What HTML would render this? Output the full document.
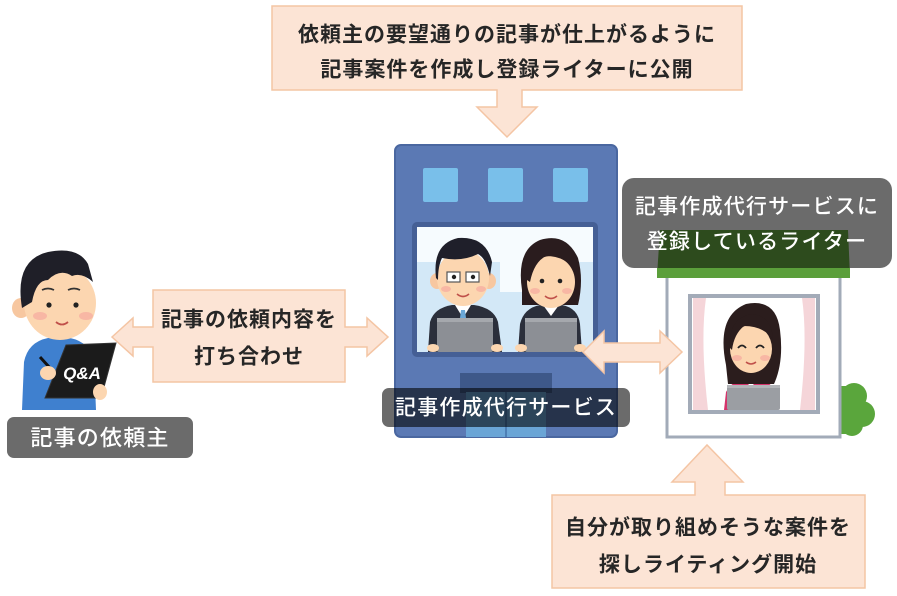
<!DOCTYPE html>
<html><head><meta charset="utf-8">
<style>
html,body{margin:0;padding:0;background:#fff;}
svg{display:block;}
.pt{font-family:"Liberation Sans","Noto Sans CJK JP",sans-serif;font-weight:700;font-size:21px;fill:#262626;letter-spacing:1px;}
.lt{font-family:"Liberation Sans","Noto Sans CJK JP",sans-serif;font-weight:500;font-size:21px;fill:#fff;letter-spacing:1.2px;}
</style></head>
<body>
<svg width="897" height="596" viewBox="0 0 897 596" xmlns="http://www.w3.org/2000/svg">
<rect width="897" height="596" fill="#fff"/>

<!-- Top peach box with down arrow -->
<polygon points="272,6 742,6 742,90 522,90 522,107 537,107 507,137 477,107 497,107 497,90 272,90" fill="#fce4d5" stroke="#f4c5a4" stroke-width="1.5"/>
<text class="pt" x="507" y="35" text-anchor="middle" dominant-baseline="central">依頼主の要望通りの記事が仕上がるように</text>
<text class="pt" x="507" y="70" text-anchor="middle" dominant-baseline="central">記事案件を作成し登録ライターに公開</text>

<!-- Building -->
<rect x="395" y="145" width="222" height="292" rx="6" fill="#5b79b4" stroke="#4a67a0" stroke-width="2"/>
<rect x="423" y="168" width="35" height="34" rx="2" fill="#79bfea"/>
<rect x="488" y="168" width="35" height="34" rx="2" fill="#79bfea"/>
<rect x="553" y="168" width="35" height="34" rx="2" fill="#79bfea"/>
<rect x="412" y="222" width="186" height="135" rx="5" fill="#455f95"/>
<rect x="417" y="227" width="176" height="125" fill="#f6fbfe"/>
<rect x="417" y="262" width="176" height="90" fill="#d3e8f7"/>
<rect x="500" y="262" width="40" height="30" fill="#f6fbfe"/>
<!-- door -->
<rect x="460" y="373" width="92" height="20" fill="#3e5889"/>
<rect x="466" y="392" width="80" height="45" fill="#6aa5d6"/>
<line x1="506" y1="392" x2="506" y2="437" stroke="#4d7fb5" stroke-width="2"/>

<!-- Man in building -->
<path d="M428,352 L430,322 Q434,308 452,305 L474,305 Q494,308 498,322 L502,352 Z" fill="#2b2f3b"/>
<path d="M455,305 L463,318 L471,305 Z" fill="#fff"/>
<path d="M461,310 L465,310 L466,318 L460,318 Z" fill="#6aa8d8"/>
<ellipse cx="437" cy="281" rx="7" ry="8" fill="#f7c7a0"/>
<ellipse cx="489" cy="281" rx="7" ry="8" fill="#f7c7a0"/>
<ellipse cx="463" cy="278" rx="26" ry="28" fill="#fcd6b0"/>
<path d="M436,278 Q432,244 458,238 Q486,236 492,262 L490,276 Q486,258 478,254 Q462,262 442,258 Q438,266 438,280 Z" fill="#1f1f2a"/>
<rect x="447" y="272" width="13" height="10" fill="#fff" stroke="#555" stroke-width="1.2"/>
<rect x="466" y="272" width="13" height="10" fill="#fff" stroke="#555" stroke-width="1.2"/>
<circle cx="454" cy="277" r="2.2" fill="#222"/>
<circle cx="473" cy="277" r="2.2" fill="#222"/>
<ellipse cx="446" cy="289" rx="5" ry="3" fill="#f6a9a0" opacity="0.7"/>
<ellipse cx="481" cy="289" rx="5" ry="3" fill="#f6a9a0" opacity="0.7"/>
<path d="M457,294 Q463,299 469,294" stroke="#c0504a" stroke-width="1.6" fill="none"/>
<rect x="437" y="318" width="56" height="34" rx="2" fill="#8c8f95"/>
<rect x="437" y="318" width="56" height="4" fill="#a5a8ad"/>
<ellipse cx="433" cy="348" rx="6" ry="4" fill="#fcd6b0"/>
<ellipse cx="497" cy="348" rx="6" ry="4" fill="#fcd6b0"/>

<!-- Woman in building -->
<path d="M518,352 L520,324 Q524,308 540,305 L562,305 Q578,308 580,324 L582,352 Z" fill="#2b2f3b"/>
<path d="M543,305 L551,316 L559,305 Z" fill="#fff"/>
<path d="M522,290 Q516,250 540,240 Q566,232 578,258 Q584,280 578,305 L522,305 Z" fill="#2a1c1e"/>
<ellipse cx="551" cy="282" rx="24" ry="26" fill="#fcd6b0"/>
<path d="M527,280 Q526,250 552,247 Q574,248 576,272 Q566,256 546,256 Q534,262 530,282 Z" fill="#2a1c1e"/>
<circle cx="542" cy="281" r="2.3" fill="#222"/>
<circle cx="560" cy="281" r="2.3" fill="#222"/>
<ellipse cx="535" cy="291" rx="5" ry="3" fill="#f6a9a0" opacity="0.7"/>
<ellipse cx="567" cy="291" rx="5" ry="3" fill="#f6a9a0" opacity="0.7"/>
<path d="M545,296 Q551,301 557,296" stroke="#c0504a" stroke-width="1.6" fill="none"/>
<rect x="525" y="318" width="52" height="34" rx="2" fill="#8c8f95"/>
<rect x="525" y="318" width="52" height="4" fill="#a5a8ad"/>
<ellipse cx="521" cy="348" rx="6" ry="4" fill="#fcd6b0"/>
<ellipse cx="580" cy="348" rx="6" ry="4" fill="#fcd6b0"/>

<!-- Building label -->
<rect x="382" y="388" width="248" height="39" rx="7" fill="rgba(0,0,0,0.58)"/>
<text class="lt" x="506" y="408" text-anchor="middle" dominant-baseline="central">記事作成代行サービス</text>

<!-- House -->
<circle cx="854" cy="396" r="13" fill="#5aa63c"/>
<circle cx="862" cy="414" r="13" fill="#5aa63c"/>
<circle cx="852" cy="425" r="11" fill="#5aa63c"/>
<rect x="838" y="386" width="20" height="48" fill="#5aa63c"/>
<rect x="667" y="276" width="173" height="161" fill="#fff" stroke="#a2abb8" stroke-width="3"/>
<path d="M660,230 L848,230 L850,276 L657,276 Z" fill="#6bb347"/>
<path d="M657,268 L850,268 L850,278 L657,278 Z" fill="#5b9f3b"/>
<rect x="690" y="296" width="128" height="116" fill="#fff" stroke="#a3abb8" stroke-width="4"/>
<path d="M693,298 L706,298 Q700,340 708,410 L693,410 Z" fill="#f5d5d9"/>
<path d="M815,298 L802,298 Q808,340 800,410 L815,410 Z" fill="#f5d5d9"/>
<!-- writer woman -->
<path d="M724,410 L726,392 Q732,380 748,378 L754,378 Q770,380 776,392 L778,410 Z" fill="#d5346b"/>
<path d="M744,378 L751,388 L758,378 Z" fill="#fff"/>
<path d="M726,365 Q716,316 746,304 Q776,298 780,330 Q784,362 774,384 L728,384 Z" fill="#2b1d1d"/>
<ellipse cx="751" cy="349" rx="21" ry="24" fill="#fcd6b0"/>
<path d="M730,348 Q728,318 752,314 Q772,316 773,340 Q764,326 744,326 Q734,334 732,350 Z" fill="#2b1d1d"/>
<path d="M738,348 Q742,343 746,348" stroke="#222" stroke-width="1.8" fill="none"/>
<path d="M756,348 Q760,343 764,348" stroke="#222" stroke-width="1.8" fill="none"/>
<ellipse cx="737" cy="358" rx="5" ry="3" fill="#f6a9a0" opacity="0.7"/>
<ellipse cx="765" cy="358" rx="5" ry="3" fill="#f6a9a0" opacity="0.7"/>
<path d="M746,362 Q751,366 756,362" stroke="#c0504a" stroke-width="1.5" fill="none"/>
<rect x="727" y="385" width="53" height="25" rx="2" fill="#9b9ea3"/>
<rect x="727" y="385" width="53" height="3" fill="#b3b5b9"/>

<!-- Right label -->
<rect x="622" y="178" width="270" height="90" rx="12" fill="rgba(0,0,0,0.58)"/>
<text class="lt" x="757" y="207" text-anchor="middle" dominant-baseline="central">記事作成代行サービスに</text>
<text class="lt" x="757" y="242" text-anchor="middle" dominant-baseline="central">登録しているライター</text>

<!-- Right double arrow -->
<polygon points="583,352 604,331 604,343 660,343 660,331 682,352 660,373 660,362 604,362 604,373" fill="#fce4d5" stroke="#f4c5a4" stroke-width="1.5"/>

<!-- Left person -->
<path d="M22,410 L24,362 Q28,342 48,338 L70,338 Q90,342 94,362 L96,410 Z" fill="#3f80cf"/>
<ellipse cx="21" cy="308" rx="9" ry="10" fill="#f7c7a0"/>
<ellipse cx="60" cy="303" rx="36" ry="37" fill="#fcd6b0"/>
<path d="M22,308 Q14,260 48,252 Q78,246 88,264 L93,282 Q82,272 72,276 Q60,268 48,280 Q36,280 32,302 Z" fill="#1f1f28"/>
<path d="M42,290 Q48,287 54,290" stroke="#333" stroke-width="1.8" fill="none"/>
<path d="M68,290 Q74,287 80,290" stroke="#333" stroke-width="1.8" fill="none"/>
<circle cx="49" cy="305" r="2.6" fill="#222"/>
<circle cx="76" cy="305" r="2.6" fill="#222"/>
<ellipse cx="40" cy="316" rx="7" ry="4" fill="#f6a9a0" opacity="0.7"/>
<ellipse cx="86" cy="316" rx="7" ry="4" fill="#f6a9a0" opacity="0.7"/>
<path d="M56,322 Q62,327 68,322" stroke="#c0504a" stroke-width="1.8" fill="none"/>
<polygon points="66,345 116,343 101,398 45,398" fill="#1b1b1b" stroke="#333" stroke-width="1"/>
<text x="82" y="379" text-anchor="middle" font-family="Liberation Sans, sans-serif" font-weight="700" font-style="italic" font-size="17" fill="#fff">Q&amp;A</text>
<line x1="40" y1="357" x2="50" y2="368" stroke="#111" stroke-width="3"/>
<ellipse cx="48" cy="373" rx="8" ry="7" fill="#fcd6b0"/>
<ellipse cx="100" cy="392" rx="7" ry="8" fill="#fcd6b0"/>

<!-- Left label -->
<rect x="7" y="417" width="186" height="41" rx="7" fill="rgba(0,0,0,0.58)"/>
<text class="lt" x="100" y="438" text-anchor="middle" dominant-baseline="central" style="font-size:22px">記事の依頼主</text>

<!-- Middle double arrow box -->
<polygon points="112,337 133,318 133,327 153,327 153,290 345,290 345,327 367,327 367,318 388,337 367,356 367,347 345,347 345,382 153,382 153,347 133,347 133,356" fill="#fce4d5" stroke="#f4c5a4" stroke-width="1.5"/>
<text class="pt" x="249" y="320" text-anchor="middle" dominant-baseline="central">記事の依頼内容を</text>
<text class="pt" x="249" y="357" text-anchor="middle" dominant-baseline="central">打ち合わせ</text>

<!-- Bottom box with up arrow -->
<polygon points="552,495 695,495 695,482 672,482 707,445 743,482 725,482 725,495 865,495 865,588 552,588" fill="#fce4d5" stroke="#f4c5a4" stroke-width="1.5"/>
<text class="pt" x="708" y="528" text-anchor="middle" dominant-baseline="central">自分が取り組めそうな案件を</text>
<text class="pt" x="708" y="565" text-anchor="middle" dominant-baseline="central">探しライティング開始</text>
</svg>
</body></html>
